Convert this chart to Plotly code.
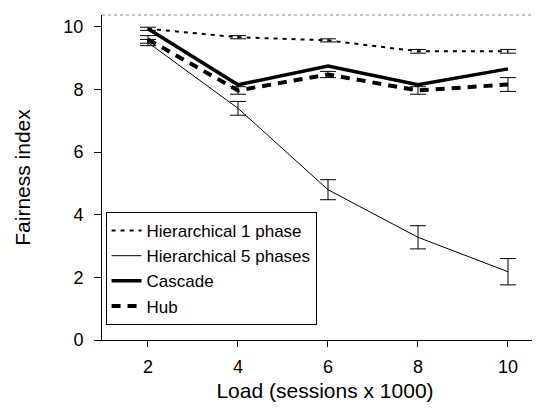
import plotly.graph_objects as go

load = [2, 4, 6, 8, 10]

h1_name = "Hierarchical 1 phase"
h1_vals = [9.94, 9.67, 9.57, 9.22, 9.22]
h1_err = [0.05, 0.05, 0.05, 0.06, 0.06]

h5_name = "Hierarchical 5 phases"
h5_vals = [9.5, 7.4, 4.8, 3.28, 2.18]
h5_err = [0.1, 0.22, 0.32, 0.37, 0.42]

cas_name = "Cascade"
cas_vals = [9.94, 8.15, 8.75, 8.15, 8.66]

hub_name = "Hub"
hub_vals = [9.6, 7.97, 8.48, 7.97, 8.16]
hub_err = [0.12, 0.12, 0.1, 0.12, 0.22]

x_ticks = [2, 4, 6, 8, 10]
y_ticks = [0, 2, 4, 6, 8, 10]

FONT = "Liberation Sans, Arial, sans-serif"

fig = go.Figure()

fig.add_trace(go.Scatter(
    x=load, y=h1_vals, name=h1_name, mode="lines",
    line=dict(color="black", width=2, dash="4px,5px"),
    error_y=dict(type="data", array=h1_err, visible=True, color="black", thickness=1, width=8),
))
fig.add_trace(go.Scatter(
    x=load, y=h5_vals, name=h5_name, mode="lines",
    line=dict(color="black", width=1),
    error_y=dict(type="data", array=h5_err, visible=True, color="black", thickness=1, width=8),
))
fig.add_trace(go.Scatter(
    x=load, y=cas_vals, name=cas_name, mode="lines",
    line=dict(color="black", width=3.5),
))
fig.add_trace(go.Scatter(
    x=load, y=hub_vals, name=hub_name, mode="lines",
    line=dict(color="black", width=4, dash="9px,7px"),
    error_y=dict(type="data", array=hub_err, visible=True, color="black", thickness=1, width=8),
))

fig.update_layout(
    width=540, height=410,
    margin=dict(l=94, r=0, t=7, b=78),
    paper_bgcolor="white", plot_bgcolor="white",
    font=dict(family=FONT, color="black", size=18),
    showlegend=True,
    legend=dict(
        x=0.008, y=0.046, xanchor="left", yanchor="bottom",
        bordercolor="black", borderwidth=1,
        font=dict(size=17, family=FONT),
        tracegroupgap=0, itemwidth=30,
        bgcolor="white",
    ),
    xaxis=dict(
        range=[0.978, 10.889], tickvals=x_ticks, ticks="outside", ticklen=6,
        tickcolor="black", showline=True, linecolor="black", linewidth=1,
        showgrid=False, zeroline=False,
        tickfont=dict(size=18), ticklabelstandoff=4,
        title=dict(text="Load (sessions x 1000)", font=dict(size=21), standoff=7),
    ),
    yaxis=dict(
        range=[0, 10.38], tickvals=y_ticks, ticks="outside", ticklen=7,
        tickcolor="black", showline=True, linecolor="black", linewidth=1,
        showgrid=False, zeroline=False,
        tickfont=dict(size=18), ticklabelstandoff=7,
        title=dict(text="Fairness index", font=dict(size=21), standoff=27),
    ),
    shapes=[dict(type="line", xref="paper", yref="paper", x0=0, x1=1, y0=1, y1=1,
                 line=dict(color="#888888", width=1, dash="dot"))],
)

fig.write_html("out.html")
